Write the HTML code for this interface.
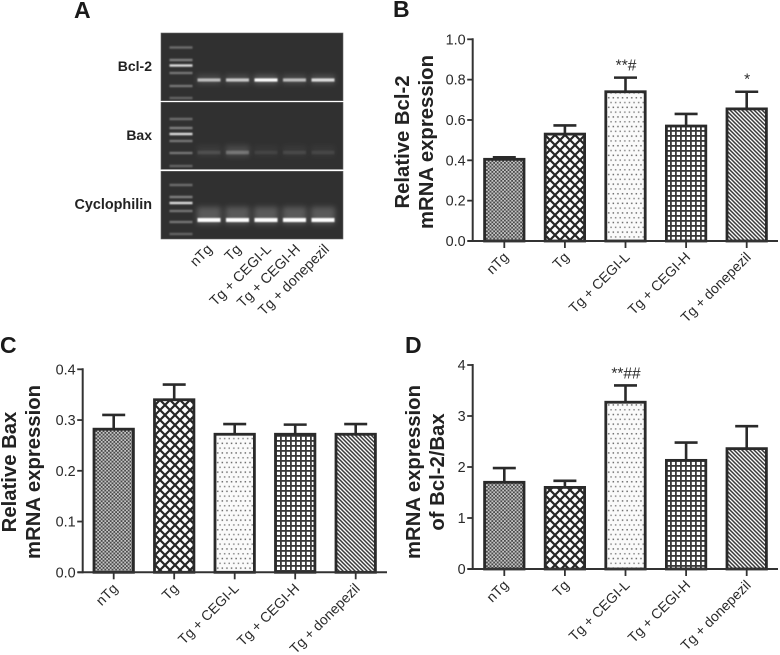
<!DOCTYPE html>
<html>
<head>
<meta charset="utf-8">
<title>Bcl-2 and Bax mRNA expression</title>
<style>
html,body{margin:0;padding:0;background:#fff;}
svg{display:block;font-family:"Liberation Sans",sans-serif;}
</style>
</head>
<body>
<svg id="figure" xmlns="http://www.w3.org/2000/svg" width="780" height="655" viewBox="0 0 780 655">
<defs>
  <pattern id="p-check" width="3.6" height="3.6" patternUnits="userSpaceOnUse">
    <rect width="3.6" height="3.6" fill="#c4c4c4"/>
    <rect width="1.8" height="1.8" fill="#4a4a4a"/>
    <rect x="1.8" y="1.8" width="1.8" height="1.8" fill="#4a4a4a"/>
  </pattern>
  <pattern id="p-cross" width="10" height="10" patternUnits="userSpaceOnUse">
    <rect width="10" height="10" fill="#fff"/>
    <path d="M-1 11L11 -1M-1 -1L11 11M-1 1L1 -1M9 11L11 9M-1 9L1 11M9 -1L11 1" stroke="#262626" stroke-width="2.2" fill="none"/>
  </pattern>
  <pattern id="p-dots" width="4.6" height="9.6" patternUnits="userSpaceOnUse">
    <rect width="4.6" height="9.6" fill="#fafafa"/>
    <rect x="0.8" y="1" width="1.5" height="1.5" fill="#6e6e6e"/>
    <rect x="3.1" y="5.8" width="1.5" height="1.5" fill="#8a8a8a"/>
  </pattern>
  <pattern id="p-grid" width="5" height="5" patternUnits="userSpaceOnUse">
    <rect width="5" height="5" fill="#fff"/>
    <rect width="1.8" height="5" fill="#3a3a3a"/>
    <rect width="5" height="1.8" fill="#3a3a3a"/>
  </pattern>
  <pattern id="p-diag" width="4" height="4" patternUnits="userSpaceOnUse">
    <rect width="4" height="4" fill="#fafafa"/>
    <path d="M-1 -1L5 5M-1 3L1 5M3 -1L5 1" stroke="#3a3a3a" stroke-width="1.5" fill="none"/>
  </pattern>
  <filter id="blur-band" x="-20%" y="-200%" width="140%" height="500%"><feGaussianBlur stdDeviation="0.9"/></filter>
  <filter id="blur-glow" x="-30%" y="-200%" width="160%" height="500%"><feGaussianBlur stdDeviation="2.6"/></filter>
</defs>
<g id="gel"></g>
<g id="charts"></g>
<text x="74" y="18" font-size="23" font-weight="bold" fill="#1a1a1a">A</text>
<text x="393" y="17" font-size="23" font-weight="bold" fill="#1a1a1a">B</text>
<text x="0" y="353" font-size="23" font-weight="bold" fill="#1a1a1a">C</text>
<text x="405" y="353" font-size="23" font-weight="bold" fill="#1a1a1a">D</text>
<text x="152" y="71" font-size="14" font-weight="bold" fill="#222" text-anchor="end">Bcl-2</text>
<text x="152" y="140" font-size="14" font-weight="bold" fill="#222" text-anchor="end">Bax</text>
<text x="152" y="209" font-size="14.4" font-weight="bold" fill="#222" text-anchor="end">Cyclophilin</text>
</svg>
<script>
var categories = ['nTg', 'Tg', 'Tg + CEGI-L', 'Tg + CEGI-H', 'Tg + donepezil'];

var bclValues = [0.405, 0.53, 0.74, 0.57, 0.655];
var bclErrors = [0.01, 0.043, 0.07, 0.06, 0.085];
var bclTicks = ['0.0', '0.2', '0.4', '0.6', '0.8', '1.0'];
var bclMarks = ['', '', '**#', '', '*'];

var baxValues = [0.282, 0.34, 0.272, 0.272, 0.272];
var baxErrors = [0.028, 0.03, 0.02, 0.019, 0.02];
var baxTicks = ['0.0', '0.1', '0.2', '0.3', '0.4'];
var baxMarks = ['', '', '', '', ''];

var ratioValues = [1.7, 1.6, 3.27, 2.13, 2.36];
var ratioErrors = [0.28, 0.13, 0.33, 0.35, 0.44];
var ratioTicks = ['0', '1', '2', '3', '4'];
var ratioMarks = ['', '', '**##', '', ''];

var gelBcl = [0.62, 0.68, 1, 0.62, 0.78];
var gelBax = [0.1, 0.24, 0.06, 0.08, 0.07];
var gelCyc = [1, 1, 1, 1, 1];
var ladderLevels = [0.35, 0.45, 0.85, 0.4, 0.4, 0.3];

var NS = 'http://www.w3.org/2000/svg';
var fills = ['url(#p-check)', 'url(#p-cross)', 'url(#p-dots)', 'url(#p-grid)', 'url(#p-diag)'];

function mk(tag, parent, attrs, txt) {
  var e = document.createElementNS(NS, tag);
  for (var k in attrs) e.setAttribute(k, attrs[k]);
  if (txt !== undefined) e.textContent = txt;
  parent.appendChild(e);
  return e;
}

function drawChart(o) {
  var root = document.getElementById('charts');
  var g = mk('g', root, {});
  
  
  var top = o.ticks.length - 1;
  var maxV = parseFloat(o.ticks[top]);
  function yScale(v) { return o.y0 - (v / maxV) * (o.y0 - o.yTop); }
  function xScale(i) { return o.xFirst + i * o.xStep; }
  var ink = '#2a2a2a';

  for (var i = 0; i < o.values.length; i++) {
    var cx = xScale(i), yv = yScale(o.values[i]), ye = yScale(o.values[i] + o.errors[i]);
    var stem = mk('line', g, {x1: cx, x2: cx, y1: yv, y2: ye, stroke: ink, 'stroke-width': 2.6});
    
    
    var cap = mk('line', g, {x1: cx - 11.5, x2: cx + 11.5, y1: ye, y2: ye, stroke: ink, 'stroke-width': 2.6});
    
    
    var bar = mk('rect', g, {x: cx - 19.7, y: yv, width: 39.4, height: o.y0 - yv, fill: fills[i], stroke: ink, 'stroke-width': 2.8});
    
    
    if (o.marks[i]) {
      var sig = mk('text', g, {x: cx + 0.5, y: ye - 7, 'font-size': 15.5, 'text-anchor': 'middle', fill: '#2a2a2a'}, o.marks[i]);
      
      
    }
    var tick = mk('line', g, {x1: cx, x2: cx, y1: o.y0, y2: o.y0 + 7, stroke: '#333', 'stroke-width': 1.8});
    
    
    var ax = cx + 5, ay = o.y0 + 17;
    var lab = mk('text', g, {x: ax, y: ay, 'font-size': 14, 'text-anchor': 'end', fill: '#2a2a2a', transform: 'rotate(-45 ' + ax + ' ' + ay + ')'}, categories[i]);
    
    
  }

  var yAxis = mk('line', g, {x1: o.x0, x2: o.x0, y1: o.yTop - 1, y2: o.y0 + 1, stroke: '#333', 'stroke-width': 2});
  
  
  var xAxis = mk('line', g, {x1: o.x0 - 5, x2: o.xEnd, y1: o.y0, y2: o.y0, stroke: '#333', 'stroke-width': 2});
  
  

  for (var t = 0; t < o.ticks.length; t++) {
    var ty = yScale(parseFloat(o.ticks[t]));
    var yt = mk('line', g, {x1: o.x0 - 5.5, x2: o.x0, y1: ty, y2: ty, stroke: '#333', 'stroke-width': 1.8});
    
    
    var yl = mk('text', g, {x: o.x0 - 7, y: ty + 5, 'font-size': 14.4, 'text-anchor': 'end', fill: '#2a2a2a'}, o.ticks[t]);
    
    
  }

  for (var l = 0; l < o.title.length; l++) {
    var tx = o.titleX[l], tyy = o.titleY;
    var title = mk('text', g, {x: tx, y: tyy, 'font-size': 20.3, 'font-weight': 'bold', 'text-anchor': 'middle', fill: '#222', transform: 'rotate(-90 ' + tx + ' ' + tyy + ')'}, o.title[l]);
    
    
  }
}

drawChart({name: 'chart-bcl2', values: bclValues, errors: bclErrors, ticks: bclTicks, marks: bclMarks,
  x0: 472.7, xEnd: 778, y0: 241, yTop: 39.3, xFirst: 504.3, xStep: 60.6,
  title: ['Relative Bcl-2', 'mRNA expression'], titleX: [409, 433], titleY: 142});
drawChart({name: 'chart-bax', values: baxValues, errors: baxErrors, ticks: baxTicks, marks: baxMarks,
  x0: 82.7, xEnd: 387, y0: 572.3, yTop: 369.3, xFirst: 113.7, xStep: 60.5,
  title: ['Relative Bax', 'mRNA expression'], titleX: [16, 40], titleY: 472});
drawChart({name: 'chart-ratio', values: ratioValues, errors: ratioErrors, ticks: ratioTicks, marks: ratioMarks,
  x0: 472.7, xEnd: 778, y0: 569, yTop: 365, xFirst: 504.3, xStep: 60.6,
  title: ['mRNA expression', 'of Bcl-2/Bax'], titleX: [420, 444], titleY: 472});

function drawGel(o) {
  var root = document.getElementById('gel');
  var g = mk('g', root, {});
  
  
  var bg = mk('rect', g, {x: 161, y: o.y, width: 182, height: o.h, fill: '#303030', stroke: '#666', 'stroke-width': 0.6});
  
  
  for (var r = 0; r < ladderLevels.length; r++) {
    var boost = r === 2 ? 1 : 0.85;
    var rung = mk('rect', g, {x: 169.5, y: o.ladder[r] - 1.2, width: 23, height: 2.4, fill: '#fff', opacity: ladderLevels[r] * boost, filter: 'url(#blur-band)'});
    
    
  }
  for (var i = 0; i < o.levels.length; i++) {
    var cx = 209 + i * 28.5, v = o.levels[i];
    var glow = mk('rect', g, {x: cx - 12, y: o.band - o.glowUp, width: 24, height: o.glowUp + 4, fill: '#fff', opacity: v * o.glowOp, filter: 'url(#blur-glow)'});
    
    
    var band = mk('rect', g, {x: cx - 11.5, y: o.band - o.bandH / 2, width: 23, height: o.bandH, fill: '#fff', opacity: Math.min(1, v * 1.05), filter: 'url(#blur-band)'});
    
    
  }
}

drawGel({name: 'gel-bcl2', y: 33, h: 67.7, levels: gelBcl, band: 80, bandH: 3.2, glowUp: 5, glowOp: 0.2,
  ladder: [47.5, 60, 65.5, 73, 86, 98]});
drawGel({name: 'gel-bax', y: 102.3, h: 67, levels: gelBax, band: 152.5, bandH: 3.6, glowUp: 7, glowOp: 0.5,
  ladder: [119, 128, 134, 141, 153, 166]});
drawGel({name: 'gel-cyclophilin', y: 171.3, h: 67.7, levels: gelCyc, band: 220, bandH: 4, glowUp: 13, glowOp: 0.2,
  ladder: [185, 197, 203, 211, 222, 234]});

var gelRoot = document.getElementById('gel');
var gelLabelEnds = [213, 242, 272, 301, 330];
for (var n = 0; n < categories.length; n++) {
  var ex = gelLabelEnds[n], ey = 250;
  var gl = mk('text', gelRoot, {x: ex, y: ey, 'font-size': 14.2, 'text-anchor': 'end', fill: '#2a2a2a', transform: 'rotate(-45 ' + ex + ' ' + ey + ')'}, categories[n]);
  
  
}
</script>
</body>
</html>
